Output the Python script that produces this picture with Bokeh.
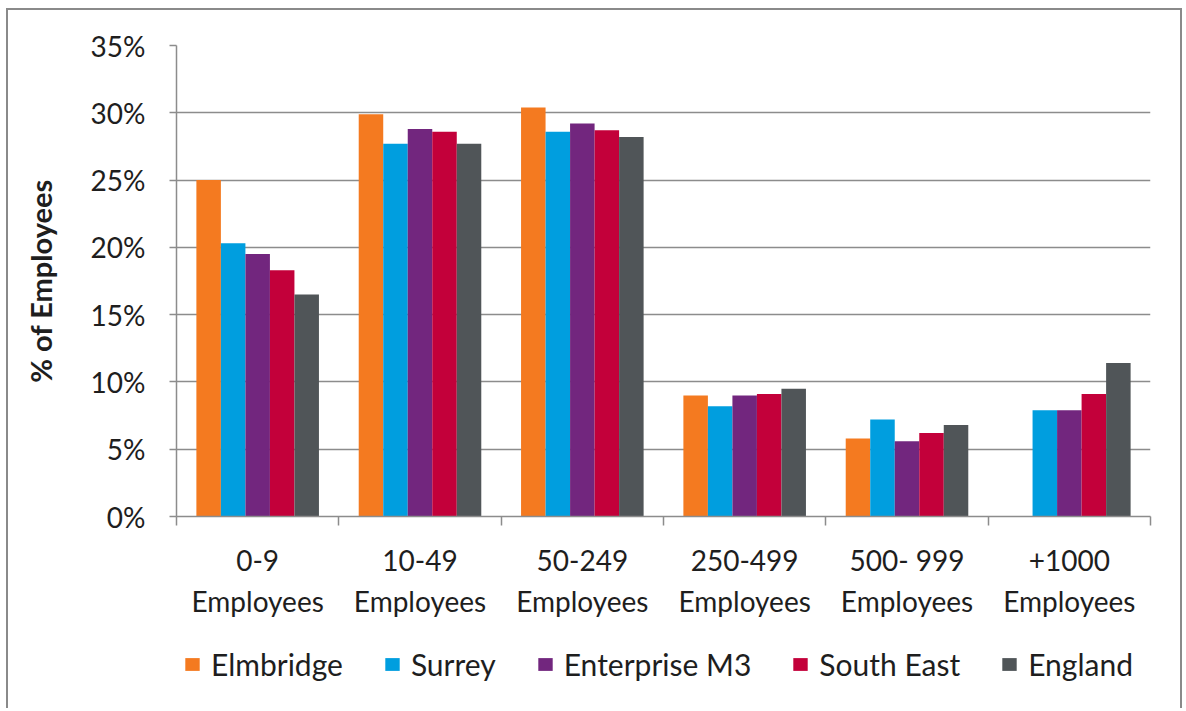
from bokeh.plotting import figure
from bokeh.layouts import column
from bokeh.models import (ColumnDataSource, FixedTicker, PrintfTickFormatter, Legend,
                          LegendItem, Range1d, LinearAxis)
from bokeh.transform import dodge
from bokeh.embed import file_html
from bokeh.resources import INLINE

# ---- data ----
categories = ["0-9 Employees", "10-49 Employees", "50-249 Employees",
              "250-499 Employees", "500- 999 Employees", "+1000 Employees"]
tick_line1 = ["0-9", "10-49", "50-249", "250-499", "500- 999", "+1000"]
tick_line2 = ["Employees", "Employees", "Employees", "Employees", "Employees", "Employees"]
series = ["Elmbridge", "Surrey", "Enterprise M3", "South East", "England"]
elmbridge = [25.0, 29.9, 30.4, 9.0, 5.8, 0.0]
surrey = [20.3, 27.7, 28.6, 8.2, 7.2, 7.9]
enterprise_m3 = [19.5, 28.8, 29.2, 9.0, 5.6, 7.9]
south_east = [18.3, 28.6, 28.7, 9.1, 6.2, 9.1]
england = [16.5, 27.7, 28.2, 9.5, 6.8, 11.4]
y_ticks = [0, 5, 10, 15, 20, 25, 30, 35]

colors = ["#F47A20", "#009EDF", "#72267E", "#C3003A", "#505558"]
FONT = "Lato"
TXT = "#1e1e1e"
GRAY = "#8c8c8c"

idx = [i + 0.5 for i in range(len(categories))]
source = ColumnDataSource(dict(idx=idx, cat=categories, Elmbridge=elmbridge, Surrey=surrey,
                               EM3=enterprise_m3, SE=south_east, England=england))
cols = ["Elmbridge", "Surrey", "EM3", "SE", "England"]

p = figure(frame_width=974, frame_height=471, output_backend="svg", toolbar_location=None,
           x_range=Range1d(0, len(categories)), y_range=Range1d(0, 35),
           min_border_left=168, min_border_right=30, min_border_top=35,
           min_border_bottom=0)
p.outline_line_color = None
p.xgrid.visible = False
p.ygrid.grid_line_color = GRAY
p.ygrid.grid_line_width = 1.5

bw = 0.151
offsets = [-2 * bw, -bw, 0, bw, 2 * bw]
for name, col, off, c in zip(series, cols, offsets, colors):
    p.vbar(x=dodge("idx", off, range=p.x_range), top=col, width=bw, bottom=0,
           source=source, fill_color=c, line_color=None)

# x axis (first label line)
xa = p.xaxis[0]
xa.ticker = FixedTicker(ticks=idx, minor_ticks=list(range(len(categories) + 1)))
xa.major_label_overrides = {v: t for v, t in zip(idx, tick_line1)}
xa.major_tick_out = 0
xa.major_tick_in = 0
xa.minor_tick_out = 9
xa.minor_tick_in = 0
xa.minor_tick_line_color = GRAY
xa.minor_tick_line_width = 1.5
xa.axis_line_color = GRAY
xa.axis_line_width = 1.5
xa.major_label_text_font = FONT
xa.major_label_text_font_size = "28px"
xa.major_label_text_color = TXT
xa.major_label_standoff = 17

# second label line
xa2 = LinearAxis(ticker=FixedTicker(ticks=idx),
                 major_label_overrides={v: t for v, t in zip(idx, tick_line2)})
xa2.axis_line_color = None
xa2.major_tick_line_color = None
xa2.minor_tick_line_color = None
xa2.major_tick_out = 0
xa2.major_tick_in = 0
xa2.minor_tick_out = 0
xa2.minor_tick_in = 0
xa2.major_label_text_font = FONT
xa2.major_label_text_font_size = "28px"
xa2.major_label_text_color = TXT
xa2.major_label_standoff = 4
p.add_layout(xa2, "below")

# y axis
ya = p.yaxis[0]
ya.ticker = FixedTicker(ticks=y_ticks)
ya.formatter = PrintfTickFormatter(format="%d%%")
ya.major_tick_out = 7
ya.major_tick_in = 0
ya.minor_tick_out = 0
ya.minor_tick_in = 0
ya.major_tick_line_color = GRAY
ya.major_tick_line_width = 1.5
ya.axis_line_color = GRAY
ya.axis_line_width = 1.5
ya.major_label_text_font = FONT
ya.major_label_text_font_size = "28px"
ya.major_label_text_color = TXT
ya.major_label_standoff = 24
ya.axis_label = "% of Employees"
ya.axis_label_text_font = FONT
ya.axis_label_text_font_size = "29px"
ya.axis_label_text_font_style = "bold"
ya.axis_label_text_color = TXT
ya.axis_label_standoff = 30

# legend strip: its own figure; the same bars are drawn there but lie outside its view
leg = figure(width=1172, height=88, output_backend="svg", toolbar_location=None,
             x_range=Range1d(0, len(categories)), y_range=Range1d(100, 101),
             min_border=0, min_border_left=0, min_border_right=0,
             min_border_top=0, min_border_bottom=0)
leg.axis.visible = False
leg.grid.visible = False
leg.outline_line_color = None
items = []
for name, col, off, c in zip(series, cols, offsets, colors):
    r = leg.vbar(x=dodge("idx", off, range=leg.x_range), top=col, width=bw, bottom=0,
                 source=source, fill_color=c, line_color=None)
    items.append(LegendItem(label=name, renderers=[r]))
legend = Legend(items=items, orientation="horizontal", location=(7, 26),
                glyph_width=18, glyph_height=16, label_standoff=10, spacing=40,
                label_text_font=FONT, label_text_font_size="30px",
                label_text_color=TXT, border_line_color=None,
                background_fill_alpha=0, margin=0, padding=0)
leg.add_layout(legend, "center")

layout = column(p, leg, spacing=0)
layout.styles = {"margin-left": "6px", "margin-top": "8px",
                 "border-left": "2px solid #8a8a8a", "border-top": "2px solid #8a8a8a",
                 "border-right": "2px solid #8a8a8a"}

open("out.html", "w").write(file_html(layout, INLINE))
